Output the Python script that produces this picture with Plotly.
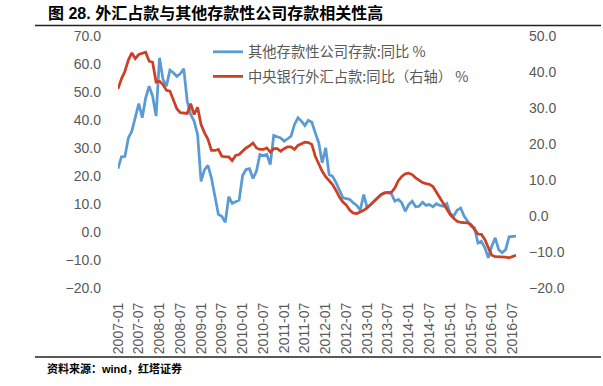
import plotly.graph_objects as go

# Monthly categories 2007-01 .. 2016-08
months = [f"{y}-{m:02d}" for y in range(2007, 2017) for m in range(1, 13)][:116]
tick_labels = months[::6]

# 其他存款性公司存款:同比 % (left axis)
other_deposits = [
    22.6, 26.9, 27.0, 33.6, 36.0, 41.1, 45.9, 40.8, 47.9, 52.1, 48.5, 41.4,
    62.2, 54.5, 52.1, 57.8, 56.9, 55.6, 56.5, 58.3, 46.7, 42.0, 39.6, 34.8,
    18.1, 22.3, 23.8, 19.3, 12.8, 6.3, 5.6, 3.5, 12.6, 10.2, 10.8, 11.4,
    20.2, 22.3, 22.6, 19.1, 21.7, 27.7, 27.3, 27.7, 24.1, 34.5, 34.0, 33.6,
    32.4, 33.3, 34.2, 38.4, 40.8, 39.6, 38.0, 39.9, 39.2, 35.4, 31.9, 24.7,
    30.1, 20.5, 19.9, 17.6, 14.6, 12.2, 11.9, 11.6, 10.4, 9.5, 7.8, 13.4,
    8.6, 9.8, 11.0, 12.2, 13.4, 14.0, 14.0, 13.6, 11.0, 11.6, 10.4, 7.4,
    9.8, 11.0, 9.0, 9.2, 10.6, 9.5, 9.8, 9.0, 10.1, 9.5, 9.2, 10.2,
    6.6, 5.7, 7.8, 8.6, 5.7, 3.9, 2.1, 1.5, -3.9, -3.3, -5.6, -9.2,
    -5.1, -2.1, -6.3, -7.4, -6.3, -1.7, -1.5, -1.5,
]

# 中央银行外汇占款:同比（右轴） % (right axis)
fx_reserves = [
    35.3, 38.1, 40.2, 43.3, 45.3, 43.7, 44.9, 45.1, 45.5, 43.0, 42.7, 37.2,
    37.4, 36.5, 34.9, 34.7, 32.4, 29.8, 28.7, 28.5, 28.5, 31.2, 28.2, 30.2,
    25.4, 23.1, 21.3, 18.2, 18.2, 18.5, 16.6, 16.4, 16.4, 15.4, 16.8, 17.1,
    18.0, 18.9, 19.5, 20.3, 18.9, 18.5, 18.5, 18.9, 17.7, 18.7, 18.7, 18.0,
    18.7, 19.2, 19.2, 18.5, 19.6, 20.1, 20.5, 20.4, 19.9, 16.6, 14.3, 12.4,
    10.9, 9.9, 8.75, 7.1, 5.2, 3.9, 3.0, 1.6, 0.8, 0.7, 1.1, 1.6,
    2.3, 3.2, 4.2, 5.0, 5.9, 6.4, 6.4, 6.6, 7.8, 9.8, 11.0, 11.7,
    11.9, 11.5, 10.6, 9.9, 9.3, 9.0, 8.8, 8.2, 6.6, 5.0, 3.3, 1.8,
    0.4, -0.6, -1.5, -1.8, -1.9, -1.9, -2.4, -3.7, -5.0, -5.1, -6.5, -8.8,
    -10.9, -11.3, -11.3, -11.3, -11.4, -11.6, -11.2, -10.9,
]

series_names = ["其他存款性公司存款:同比 %", "中央银行外汇占款:同比（右轴） %"]
left_ticks = list(range(-20, 71, 10))
right_ticks = list(range(-20, 51, 10))

BLUE = "#5b9bd5"
RED = "#cc4125"
GRAY = "#595959"
LAT = "Liberation Sans, Arial, Noto Sans CJK SC"
CJK = "Liberation Sans, Noto Sans CJK SC"

W, H = 603, 386
PLOT_L, PLOT_R, PLOT_T, PLOT_B = 118, 516, 36, 288
RULE_X = (35, 601)          # page rules (decoration), page pixel units
RULE_Y = (25.5, 357)


def fx(x):  # pixel -> paper (paper = whole figure, margins are zero)
    return x / W


def fy(y):
    return 1 - y / H


fig = go.Figure()
fig.add_trace(go.Scatter(x=months, y=other_deposits, name=series_names[0],
                         mode="lines", line=dict(color=BLUE, width=2.75),
                         yaxis="y", legendgroup="a"))
fig.add_trace(go.Scatter(x=months, y=fx_reserves, name=series_names[1],
                         mode="lines", line=dict(color=RED, width=2.75),
                         yaxis="y2", legendgroup="b"))
# page rules on a full-page pixel overlay axis pair
for ry in RULE_Y:
    fig.add_trace(go.Scatter(x=list(RULE_X), y=[ry, ry], mode="lines",
                             line=dict(color="#222222", width=1.5),
                             xaxis="x3", yaxis="y3", showlegend=False,
                             hoverinfo="skip"))

n = len(months)
zero_px = PLOT_B - (PLOT_B - PLOT_T) * 20 / 90
fig.update_layout(
    width=W, height=H,
    margin=dict(l=0, r=0, t=0, b=0, autoexpand=False),
    paper_bgcolor="white", plot_bgcolor="rgba(0,0,0,0)",
    showlegend=True,
    legend=dict(x=fx(208), y=fy(PLOT_T), xanchor="left", yanchor="top",
                bgcolor="rgba(0,0,0,0)", traceorder="grouped",
                tracegroupgap=3,
                font=dict(family="Noto Sans CJK SC", size=14.3, color=GRAY)),
    title=dict(text="<b>图 28. 外汇占款与其他存款性公司存款相关性高</b>",
               xref="container", yref="container", x=fx(48), y=fy(13),
               xanchor="left", yanchor="middle",
               font=dict(family=CJK, size=16, color="black")),
    xaxis=dict(type="category", domain=[fx(PLOT_L), fx(PLOT_R)],
               range=[0, n - 1], tickmode="array",
               tickvals=tick_labels, ticktext=tick_labels, tickangle=-90,
               showline=False, showgrid=False, zeroline=False, ticks="",
               automargin=False,
               tickfont=dict(family=LAT, size=14, color=GRAY),
               ticklabelstandoff=11),
    xaxis2=dict(overlaying="x", anchor="free", position=fy(zero_px),
                domain=[fx(PLOT_L), fx(PLOT_R)],
                type="linear", range=[0, n - 1], tickmode="array",
                tickvals=list(range(0, n, 6)), showticklabels=False,
                ticks="outside", ticklen=4, tickcolor="#d9d9d9", tickwidth=1,
                showline=True, linecolor="#d9d9d9", linewidth=1.5,
                showgrid=False, zeroline=False, automargin=False),
    yaxis=dict(domain=[fy(PLOT_B), fy(PLOT_T)],
               range=[-20, 70], tickmode="array", tickvals=left_ticks,
               tickformat=".1f", showgrid=False, zeroline=False,
               showline=False, ticks="", automargin=False,
               tickfont=dict(family=LAT, size=14, color=GRAY),
               ticklabelstandoff=16),
    yaxis2=dict(range=[-20, 50], tickmode="array", tickvals=right_ticks,
                tickformat=".1f", overlaying="y", side="right", anchor="x",
                showgrid=False, zeroline=False, showline=False, ticks="",
                automargin=False,
                tickfont=dict(family=LAT, size=14, color=GRAY),
                ticklabelstandoff=12),
    xaxis3=dict(domain=[0, 1], range=[0, W], anchor="y3", visible=False,
                fixedrange=True),
    yaxis3=dict(domain=[0, 1], range=[H, 0], anchor="x3", visible=False,
                fixedrange=True),
    annotations=[
        dict(text="<b>资料来源：wind，红塔证券</b>", xref="paper", yref="paper",
             x=fx(45), y=fy(368), xanchor="left",
             yanchor="middle", showarrow=False,
             font=dict(family=CJK, size=11, color="black")),
    ],
)

fig.write_html("out.html", config={"displayModeBar": False},
               post_script="document.body.style.margin='0';"
                           "document.body.style.overflow='hidden';")
